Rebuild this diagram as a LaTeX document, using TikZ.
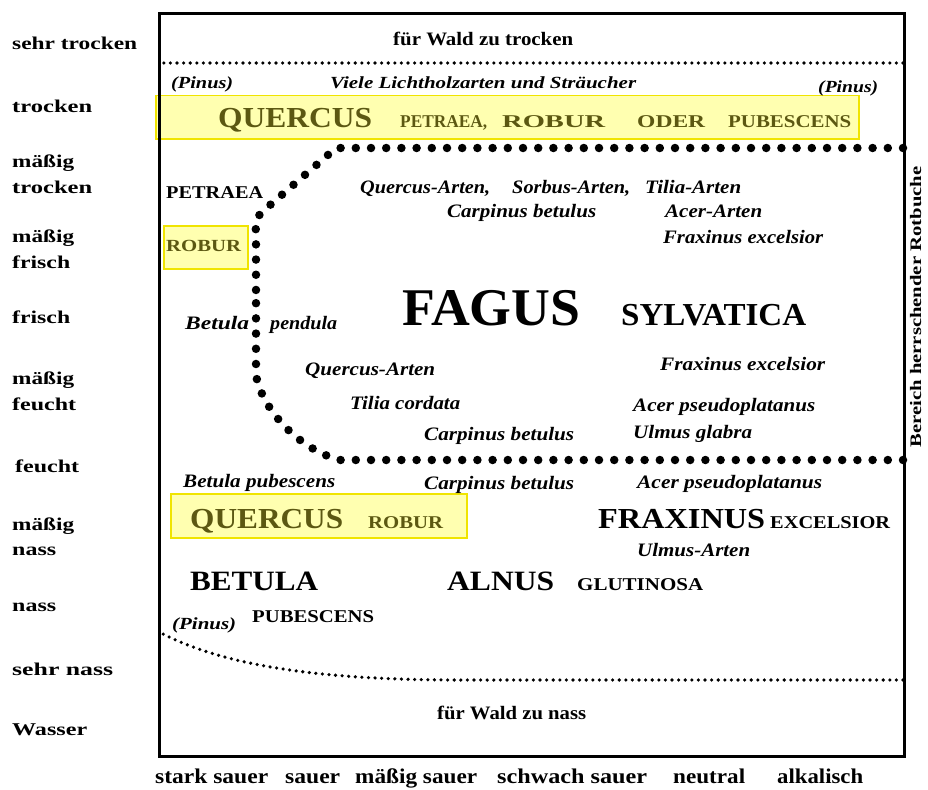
\documentclass[tikz,border=0pt]{standalone}
\usepackage{fontspec}
\setmainfont{Liberation Serif}
\usepackage{graphicx}
\definecolor{boxfill}{HTML}{FFFFB0}
\definecolor{boxline}{HTML}{F0E400}
\definecolor{olive}{HTML}{5C5812}
% set a text to a given width (in pt) while keeping its height
\newcommand{\fw}[2]{\resizebox{#1pt}{\height}{#2}}
\tikzset{
  lab/.style={inner sep=0pt, anchor=base west, font=\bfseries\fontsize{18}{18}\selectfont},
  axis/.style={inner sep=0pt, anchor=base west, font=\bfseries\fontsize{21}{21}\selectfont},
  spec/.style={inner sep=0pt, anchor=base west, font=\bfseries\itshape\fontsize{19}{19}\selectfont},
  cap/.style={inner sep=0pt, anchor=base west, font=\bfseries\fontsize{#1}{#1}\selectfont},
  olivecap/.style={cap=#1, text=olive},
  hlbox/.style={draw=boxline, fill=boxfill, line width=1.5pt, inner sep=0pt, anchor=north west},
  bigdots/.style={line width=8.5pt, line cap=round, dash pattern=on 0pt off 15.2pt},
  smalldots/.style={line width=3.6pt, line cap=round, dash pattern=on 0pt off 6.6pt},
}
\begin{document}
\begin{tikzpicture}[x=1pt, y=-1pt]
\useasboundingbox (0,0) rectangle (928,789);
\fill[white] (0,0) rectangle (928,789);

% highlighted boxes
\node[hlbox, minimum width=703pt, minimum height=43pt] (hlTop) at (155,95) {};
\node[hlbox, minimum width=84pt, minimum height=43pt] (hlRobur) at (163,225) {};
\node[hlbox, minimum width=296pt, minimum height=44pt] (hlLow) at (170,493) {};

% frame
\node[draw, line width=3pt, inner sep=0pt, minimum width=745pt, minimum height=743pt, anchor=north west] (frame) at (158,12) {};

% boundaries
\coordinate (dryR) at (903,63);
\coordinate (dryL) at (158,63);
\draw[smalldots] (dryR) -- (dryL);
\coordinate (fagTopR) at (903,148);
\coordinate (fagBotR) at (903,460);
\coordinate (fagMid) at (256,300);
\draw[bigdots] (fagTopR) -- (336,148) -- (262,212) .. controls (255,220) .. (256,232) -- (fagMid);
\draw[bigdots] (fagBotR) -- (340,460) .. controls (300,450) and (262,410) .. (256,375) -- (fagMid);
\coordinate (wetL) at (163,634);
\coordinate (wetR) at (903,680);
\draw[smalldots] (wetR) -- (460,680) .. controls (330,680) and (230,668) .. (wetL);

% moisture scale
\node[lab] (m1) at (12,50) {\fw{125}{sehr trocken}};
\node[lab] (m2) at (12,113) {\fw{80}{trocken}};
\node[lab] (m3a) at (12,167) {\fw{62}{mäßig}};
\node[lab] (m3b) at (12,193) {\fw{80}{trocken}};
\node[lab] (m4a) at (12,242) {\fw{62}{mäßig}};
\node[lab] (m4b) at (12,268) {\fw{58}{frisch}};
\node[lab] (m5) at (12,323) {\fw{58}{frisch}};
\node[lab] (m6a) at (12,384) {\fw{62}{mäßig}};
\node[lab] (m6b) at (12,410) {\fw{64}{feucht}};
\node[lab] (m7) at (15,472) {\fw{64}{feucht}};
\node[lab] (m8a) at (12,530) {\fw{62}{mäßig}};
\node[lab] (m8b) at (12,555) {\fw{44}{nass}};
\node[lab] (m9) at (12,611) {\fw{44}{nass}};
\node[lab] (m10) at (12,675) {\fw{101}{sehr nass}};
\node[lab] (m11) at (12,735) {\fw{75}{Wasser}};

% acidity scale
\node[axis] (a1) at (155,783) {\fw{113}{stark sauer}};
\node[axis] (a2) at (285,783) {\fw{55}{sauer}};
\node[axis] (a3) at (355,783) {\fw{122}{mäßig sauer}};
\node[axis] (a4) at (497,783) {\fw{150}{schwach sauer}};
\node[axis] (a5) at (673,783) {\fw{72}{neutral}};
\node[axis] (a6) at (777,783) {\fw{86}{alkalisch}};

% side note
\node[rotate=90, anchor=base, inner sep=0pt, font=\bfseries\fontsize{16}{16}\selectfont] (side) at (921,307) {\fw{281}{Bereich herrschender Rotbuche}};

% dry zone
\node[cap=19] (tooDry) at (393,46) {\fw{180}{für Wald zu trocken}};
\node[spec, font=\bfseries\itshape\fontsize{17}{17}\selectfont] (pinus1) at (171,89) {\fw{62}{(Pinus)}};
\node[spec, font=\bfseries\itshape\fontsize{17}{17}\selectfont] (light) at (330,89) {\fw{306}{Viele Lichtholzarten und Sträucher}};
\node[spec, font=\bfseries\itshape\fontsize{17}{17}\selectfont] (pinus2) at (818,93) {\fw{60}{(Pinus)}};
\node[olivecap=29] (q1) at (218,128) {\fw{154}{QUERCUS}};
\node[olivecap=18] (q1a) at (400,128) {\fw{87}{PETRAEA,}};
\node[olivecap=18] (q1b) at (502,128) {\fw{103}{ROBUR}};
\node[olivecap=18] (q1c) at (637,128) {\fw{68}{ODER}};
\node[olivecap=18] (q1d) at (728,128) {\fw{123}{PUBESCENS}};

% beech zone
\node[cap=18] (petraea) at (166,198) {\fw{97}{PETRAEA}};
\node[olivecap=17] (robur) at (166,251) {\fw{75}{ROBUR}};
\node[spec] (s1) at (360,193) {\fw{130}{Quercus-Arten,}};
\node[spec] (s2) at (512,193) {\fw{118}{Sorbus-Arten,}};
\node[spec] (s3) at (645,193) {\fw{96}{Tilia-Arten}};
\node[spec] (s4) at (447,217) {\fw{149}{Carpinus betulus}};
\node[spec] (s5) at (665,217) {\fw{97}{Acer-Arten}};
\node[spec] (s6) at (663,243) {\fw{160}{Fraxinus excelsior}};
\node[spec] (s7) at (185,329) {\fw{64}{Betula}};
\node[spec] (s8) at (270,329) {\fw{67}{pendula}};
\node[cap=53] (fagus) at (402,325) {\fw{178}{FAGUS}};
\node[cap=32] (sylv) at (621,325) {\fw{185}{SYLVATICA}};
\node[spec] (s9) at (660,370) {\fw{165}{Fraxinus excelsior}};
\node[spec] (s10) at (305,375) {\fw{130}{Quercus-Arten}};
\node[spec] (s11) at (350,409) {\fw{110}{Tilia cordata}};
\node[spec] (s12) at (633,411) {\fw{182}{Acer pseudoplatanus}};
\node[spec] (s13) at (424,440) {\fw{150}{Carpinus betulus}};
\node[spec] (s14) at (633,438) {\fw{119}{Ulmus glabra}};

% wet zone
\node[spec] (w1) at (183,487) {\fw{152}{Betula pubescens}};
\node[spec] (w2) at (424,489) {\fw{150}{Carpinus betulus}};
\node[spec] (w3) at (637,488) {\fw{185}{Acer pseudoplatanus}};
\node[olivecap=29] (q2) at (190,528) {\fw{153}{QUERCUS}};
\node[olivecap=18] (q2a) at (368,528) {\fw{75}{ROBUR}};
\node[cap=29] (frax) at (598,528) {\fw{167}{FRAXINUS}};
\node[cap=18] (fraxa) at (770,528) {\fw{120}{EXCELSIOR}};
\node[spec] (w4) at (637,556) {\fw{113}{Ulmus-Arten}};
\node[cap=28] (betula) at (190,590) {\fw{128}{BETULA}};
\node[cap=28] (alnus) at (447,590) {\fw{107}{ALNUS}};
\node[cap=18] (alnusa) at (577,590) {\fw{126}{GLUTINOSA}};
\node[cap=18] (betulaa) at (252,622) {\fw{122}{PUBESCENS}};
\node[spec, font=\bfseries\itshape\fontsize{17}{17}\selectfont] (pinus3) at (172,629) {\fw{64}{(Pinus)}};
\node[cap=19] (tooWet) at (437,719) {\fw{149}{für Wald zu nass}};
\end{tikzpicture}
\end{document}
